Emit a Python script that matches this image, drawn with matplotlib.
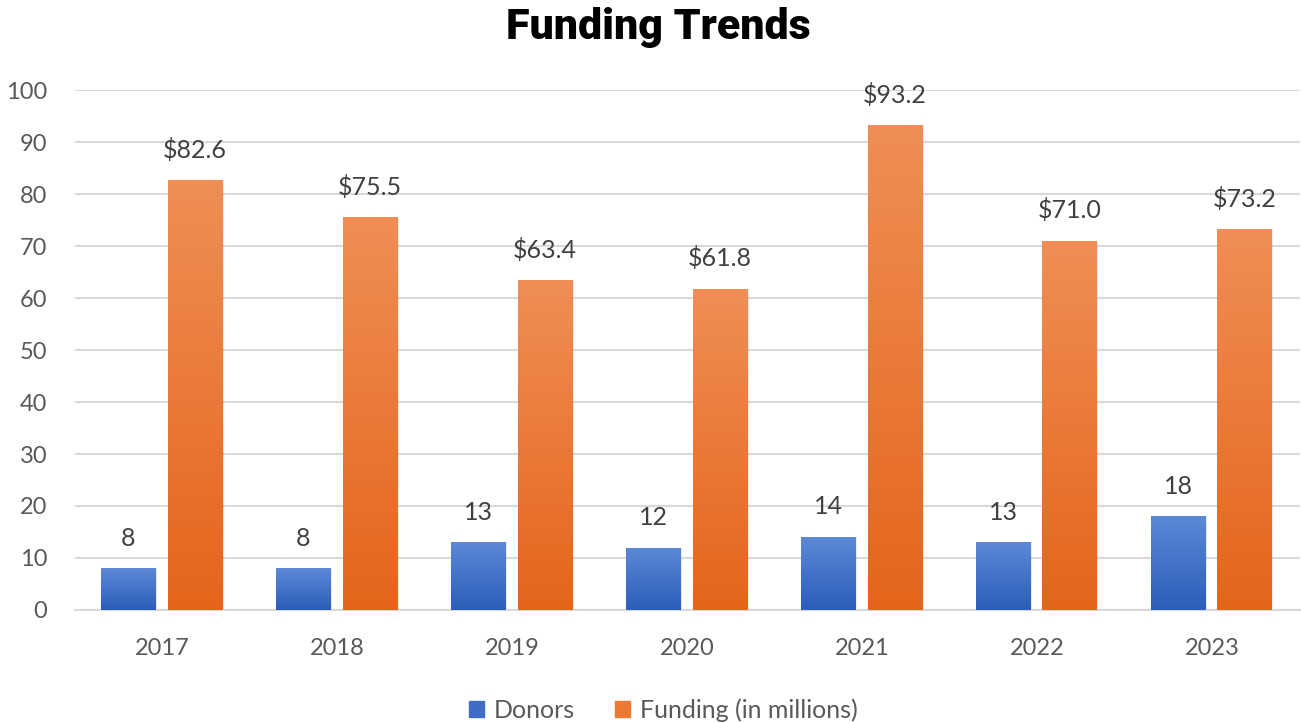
import numpy as np
from matplotlib import pyplot as plt
from matplotlib.colors import LinearSegmentedColormap
from matplotlib.patches import Patch

years = ['2017', '2018', '2019', '2020', '2021', '2022', '2023']
donors = [8, 8, 13, 12, 14, 13, 18]
funding = [82.6, 75.5, 63.4, 61.8, 93.2, 71.0, 73.2]

plt.rcParams['font.family'] = ['Lato', 'DejaVu Sans']

fig = plt.figure(figsize=(13.01, 7.23), dpi=100)
ax = fig.add_axes([0.0576, 0.1563, 0.9414, 0.7192])

blue_cmap = LinearSegmentedColormap.from_list('b', ['#2C5DBA', '#5C88D6'])
orange_cmap = LinearSegmentedColormap.from_list('o', ['#E4651A', '#F08E56'])
grad = np.linspace(0, 1, 256).reshape(-1, 1)

x = np.arange(len(years))
w = 0.31
off = 0.19


def gradient_bars(positions, values, cmap, color):
    bars = ax.bar(positions, values, width=w, color=color, zorder=2)
    for bar in bars:
        x0, y0 = bar.get_x(), bar.get_y()
        x1, y1 = x0 + bar.get_width(), y0 + bar.get_height()
        # soft shadow
        ax.bar(x0 + bar.get_width() / 2 + 0.01, bar.get_height(), width=w,
               bottom=0, color='#000000', alpha=0.08, zorder=1.5)
        im = ax.imshow(grad, cmap=cmap, origin='lower', aspect='auto',
                       extent=[x0, x1, y0, y1], zorder=3)
        im.set_clip_path(bar)
    return bars


gradient_bars(x - off - 0.005, donors, blue_cmap, '#4472C4')
gradient_bars(x + off - 0.005, funding, orange_cmap, '#ED7D31')

for xi, v in zip(x - off - 0.005, donors):
    ax.text(xi, v + 3.6, f'{v}', ha='center', va='bottom', fontsize=18, color='#404040')
for xi, v in zip(x + off - 0.005, funding):
    ax.text(xi, v + 3.6, f'${v:.1f}', ha='center', va='bottom', fontsize=18, color='#404040')

ax.set_xlim(-0.5, len(years) - 0.5)
ax.set_ylim(0, 100)
ax.set_yticks(np.arange(0, 101, 10))
ax.set_xticks(x)
ax.set_xticklabels(years)
ax.tick_params(axis='both', length=0, labelsize=17, labelcolor='#595959')
ax.tick_params(axis='x', pad=20)
ax.tick_params(axis='y', pad=20)
ax.grid(axis='y', color='#D9D9D9', linewidth=1.5, zorder=0)
ax.set_axisbelow(True)
for s in ['top', 'right', 'left']:
    ax.spines[s].set_visible(False)
ax.spines['bottom'].set_color('#D9D9D9')
ax.spines['bottom'].set_linewidth(1.5)

fig.suptitle('Funding Trends', x=0.506, y=0.99, fontsize=31, fontweight='black',
             family='Roboto', color='black')

handles = [Patch(color='#3E6CC7', label='Donors'),
           Patch(color='#EC7A33', label='Funding (in millions)')]
fig.legend(handles=handles, loc='lower center', bbox_to_anchor=(0.51, -0.03), ncol=2,
           frameon=False, fontsize=18, labelcolor='#595959', handlelength=0.6,
           handleheight=0.6, handletextpad=0.4, columnspacing=1.6)

fig.savefig('out.png', dpi=100)
